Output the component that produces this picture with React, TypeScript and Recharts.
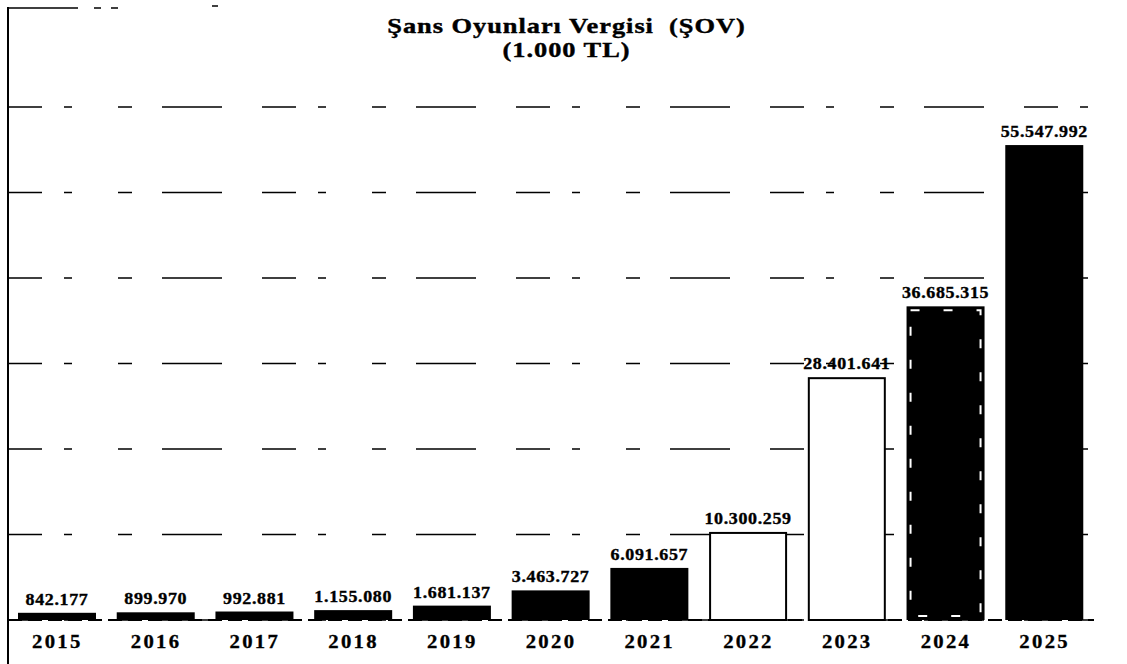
import React from 'react';
import { BarChart, Bar, XAxis, YAxis, CartesianGrid, LabelList } from 'recharts';

// Şans Oyunları Vergisi, 1.000 TL
const years = ['2015', '2016', '2017', '2018', '2019', '2020', '2021', '2022', '2023', '2024', '2025'];
const revenue = [842177, 899970, 992881, 1155080, 1681137, 3463727, 6091657, 10300259, 28401641, 36685315, 55547992];
const yTicks = [0, 10000000, 20000000, 30000000, 40000000, 50000000, 60000000];
const hollowYears = ['2022', '2023'];
const dashedYears = ['2024'];

const data = years.map((year, i) => ({ year, value: revenue[i] }));

const FONT = '"Liberation Serif", "Times New Roman", serif';

function formatTr(n: number): string {
  return String(n).replace(/\B(?=(\d{3})+(?!\d))/g, '.');
}

function BarShape(props: any) {
  const { x, y, width, height, payload } = props;
  const year = payload?.year;
  if (hollowYears.includes(year)) {
    return (
      <rect x={x + 1} y={y + 1} width={width - 2} height={height - 1} fill="#fff" stroke="#000" strokeWidth={2} />
    );
  }
  if (dashedYears.includes(year)) {
    return (
      <g>
        <rect x={x} y={y} width={width} height={height} fill="#000" />
        <rect
          x={x + 4}
          y={y + 4}
          width={width - 8}
          height={height - 8}
          fill="none"
          stroke="#fff"
          strokeWidth={2}
          strokeDasharray="9 24"
        />
      </g>
    );
  }
  return <rect x={x} y={y} width={width} height={height} fill="#000" />;
}

// scanned look: heavy, slightly stretched bold serif
function ValueLabel(props: any) {
  const { x, y, width, value } = props;
  return (
    <text
      transform={`translate(${x + width / 2}, ${y - 8}) scale(1.12, 1)`}
      textAnchor="middle"
      fontFamily={FONT}
      fontWeight="bold"
      fontSize={16}
      letterSpacing={0.6}
      fill="#000"
      stroke="#000"
      strokeWidth={0.35}
    >
      {formatTr(value)}
    </text>
  );
}

function YearTick(props: any) {
  const { x, y, payload } = props;
  return (
    <text
      transform={`translate(${x}, ${y + 20}) scale(1.15, 1)`}
      textAnchor="middle"
      fontFamily={FONT}
      fontWeight="bold"
      fontSize={18}
      letterSpacing={2}
      fill="#000"
      stroke="#000"
      strokeWidth={0.3}
    >
      {payload.value}
    </text>
  );
}

export default function App() {
  return (
    <div style={{ position: 'absolute', left: 0, top: 0, width: 1127, height: 664, background: '#fff', overflow: 'hidden' }}>
      {/* frame: left edge and broken top edge */}
      <svg width={1127} height={664} style={{ position: 'absolute', left: 0, top: 0 }}>
        <line x1={8} y1={7} x2={8} y2={664} stroke="#000" strokeWidth={2} />
        <line x1={8} y1={8} x2={120} y2={8} stroke="#000" strokeWidth={1.5} strokeDasharray="70 16 7 10 7 200" />
        <line x1={212} y1={6} x2={218} y2={6} stroke="#000" strokeWidth={1.5} />
      </svg>
      <div
        style={{
          position: 'absolute',
          left: 0,
          top: 14,
          width: 1133,
          textAlign: 'center',
          fontFamily: FONT,
          fontWeight: 'bold',
          fontSize: 22,
          lineHeight: '24px',
          letterSpacing: 0.8,
          color: '#000',
          transform: 'scaleX(1.2)',
          WebkitTextStroke: '0.4px #000',
        }}
      >
        <div>Şans Oyunları Vergisi&nbsp;&nbsp;(ŞOV)</div>
        <div>(1.000 TL)</div>
      </div>
      <BarChart
        width={1127}
        height={664}
        data={data}
        margin={{ top: 107, right: 33, left: 8, bottom: 14 }}
        barSize={78}
        style={{ position: 'absolute', left: 0, top: 0 }}
      >
        <CartesianGrid
          vertical={false}
          stroke="#000"
          strokeWidth={1.5}
          strokeDasharray="34 22 8 46 14 30 60 40"
        />
        <YAxis hide domain={[0, 60000000]} ticks={yTicks} />
        <XAxis
          dataKey="year"
          height={30}
          tickLine={false}
          axisLine={{ stroke: '#000', strokeWidth: 2, strokeDasharray: '14 6' }}
          tick={<YearTick />}
          interval={0}
        />
        <Bar dataKey="value" shape={<BarShape />} isAnimationActive={false}>
          <LabelList dataKey="value" content={<ValueLabel />} />
        </Bar>
      </BarChart>
    </div>
  );
}
